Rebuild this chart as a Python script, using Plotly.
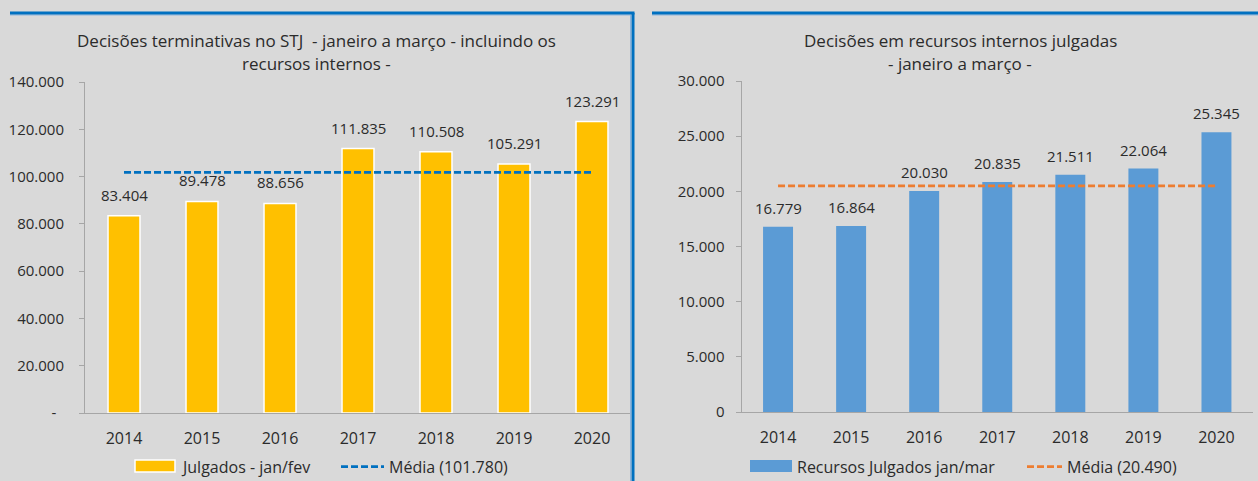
import plotly.graph_objects as go

years = ["2014", "2015", "2016", "2017", "2018", "2019", "2020"]
julgados = [83404, 89478, 88656, 111835, 110508, 105291, 123291]
recursos = [16779, 16864, 20030, 20835, 21511, 22064, 25345]

left_title = ["Decisões terminativas no STJ  - janeiro a março - incluindo os", "recursos internos -"]
right_title = ["Decisões em recursos internos julgadas", "- janeiro a março -"]
left_ticks = [0, 20000, 40000, 60000, 80000, 100000, 120000, 140000]
left_ticktext = ["-\u00a0\u00a0", "20.000", "40.000", "60.000", "80.000", "100.000", "120.000", "140.000"]
right_ticks = [0, 5000, 10000, 15000, 20000, 25000, 30000]
right_ticktext = ["0", "5.000", "10.000", "15.000", "20.000", "25.000", "30.000"]


def fmt(v):
    return f"{round(v):,}".replace(",", ".")


mean_l = sum(julgados) / len(julgados)
mean_r = sum(recursos) / len(recursos)
name_l = ["Julgados - jan/fev", f"Média ({fmt(mean_l)})"]
name_r = ["Recursos Julgados jan/mar", f"Média ({fmt(mean_r)})"]

W, H = 1258, 481
BG = "#D9D9D9"
TXT = "#2b2b2b"
AX = "#A6A6A6"
FONT = "Open Sans"
YEL = "#FFC000"
BLU = "#5B9BD5"
DBL = "#0070C0"
LBL = "#8DB4DD"
ORG = "#ED7D31"
DASH = "7px,3px"


def px(x):
    return x / W


def py(y):
    return 1 - y / H


fig = go.Figure()

fig.add_trace(go.Bar(x=years, y=julgados, name=name_l[0],
                     marker=dict(color=YEL, line=dict(color="white", width=1.5)),
                     xaxis="x", yaxis="y", showlegend=False))
fig.add_trace(go.Scatter(x=[years[0], years[-1]], y=[mean_l, mean_l], mode="lines",
                         name=name_l[1], line=dict(color=DBL, width=2.75, dash=DASH),
                         xaxis="x", yaxis="y", showlegend=False))
fig.add_trace(go.Bar(x=years, y=recursos, name=name_r[0],
                     marker=dict(color=BLU, line=dict(width=0)),
                     xaxis="x2", yaxis="y2", showlegend=False))
fig.add_trace(go.Scatter(x=[years[0], years[-1]], y=[mean_r, mean_r], mode="lines",
                         name=name_r[1], line=dict(color=ORG, width=2.75, dash=DASH),
                         xaxis="x2", yaxis="y2", showlegend=False))

annotations = []
for i, v in enumerate(julgados):
    annotations.append(dict(x=i, y=v, xref="x", yref="y", text=fmt(v), showarrow=False,
                            yshift=21, font=dict(size=15, color=TXT, family=FONT)))
for i, v in enumerate(recursos):
    annotations.append(dict(x=i, y=v, xref="x2", yref="y2", text=fmt(v), showarrow=False,
                            yshift=19, font=dict(size=15, color=TXT, family=FONT)))

for i, t in enumerate(left_title):
    annotations.append(dict(x=px(317), y=py(40 + 23 * i), xref="paper", yref="paper", text=t,
                            showarrow=False, xanchor="center", yanchor="middle",
                            font=dict(size=17, color=TXT, family=FONT)))
for i, t in enumerate(right_title):
    annotations.append(dict(x=px(960), y=py(40 + 23 * i), xref="paper", yref="paper", text=t,
                            showarrow=False, xanchor="center", yanchor="middle",
                            font=dict(size=17, color=TXT, family=FONT)))

# legend texts
leg_font = dict(size=16, color=TXT, family=FONT)
for xt, t in [(179, name_l[0]), (387, name_l[1]), (795, name_r[0]), (1065, name_r[1])]:
    annotations.append(dict(x=px(xt), y=py(466.5), xref="paper", yref="paper", text=t,
                            showarrow=False, xanchor="left", yanchor="middle", font=leg_font))

shapes = [
    # panel borders
    dict(type="line", xref="paper", yref="paper", x0=px(10), x1=px(631), y0=py(15), y1=py(15),
         line=dict(color=LBL, width=1)),
    dict(type="line", xref="paper", yref="paper", x0=px(630.5), x1=px(630.5), y0=py(15), y1=0,
         line=dict(color=LBL, width=1)),
    dict(type="line", xref="paper", yref="paper", x0=px(652), x1=1, y0=py(15), y1=py(15),
         line=dict(color=LBL, width=1)),
    dict(type="line", xref="paper", yref="paper", x0=px(10), x1=px(634.5), y0=py(13), y1=py(13),
         line=dict(color=DBL, width=3)),
    dict(type="line", xref="paper", yref="paper", x0=px(633), x1=px(633), y0=py(13), y1=0,
         line=dict(color=DBL, width=3)),
    dict(type="line", xref="paper", yref="paper", x0=px(652), x1=1, y0=py(13), y1=py(13),
         line=dict(color=DBL, width=3)),
    # legend keys
    dict(type="rect", xref="paper", yref="paper", x0=px(135), x1=px(175), y0=py(472), y1=py(460),
         fillcolor=YEL, line=dict(color="white", width=1.5)),
    dict(type="line", xref="paper", yref="paper", x0=px(341), x1=px(384), y0=py(466.5), y1=py(466.5),
         line=dict(color=DBL, width=2.75, dash=DASH)),
    dict(type="rect", xref="paper", yref="paper", x0=px(750), x1=px(792), y0=py(472), y1=py(460),
         fillcolor=BLU, line=dict(width=0)),
    dict(type="line", xref="paper", yref="paper", x0=px(1027), x1=px(1062), y0=py(466.5), y1=py(466.5),
         line=dict(color=ORG, width=2.75, dash=DASH)),
]

yaxis_common = dict(showgrid=False, zeroline=False, linecolor=AX, linewidth=1, automargin=False,
                    tickfont=dict(size=15, color=TXT, family=FONT))
xaxis_common = dict(showgrid=False, zeroline=False, linecolor=AX, linewidth=1, automargin=False,
                    tickfont=dict(size=16, color=TXT, family=FONT))

fig.update_layout(
    width=W, height=H, autosize=False,
    margin=dict(l=0, r=0, t=0, b=0, pad=0, autoexpand=False),
    paper_bgcolor=BG, plot_bgcolor=BG,
    separators=",.",
    bargap=0.59,
    showlegend=False,
    font=dict(family=FONT, color=TXT),
    xaxis=dict(domain=[px(85), px(631)], type="category", range=[-0.5, 6.5],
               showline=True, ticks="", ticklabelstandoff=11, anchor="y", **xaxis_common),
    yaxis=dict(domain=[py(413), py(82)], range=[0, 140000], tickvals=left_ticks,
               ticktext=left_ticktext, showline=True, ticks="outside", ticklen=5,
               tickcolor=AX, ticklabelstandoff=12, anchor="x", **yaxis_common),
    xaxis2=dict(domain=[px(741.5), px(1253)], type="category", range=[-0.5, 6.5],
                showline=True, ticks="", ticklabelstandoff=11, anchor="y2", **xaxis_common),
    yaxis2=dict(domain=[py(412), py(81)], range=[0, 30000], tickvals=right_ticks,
                ticktext=right_ticktext, showline=True, ticks="outside", ticklen=5,
                tickcolor=AX, ticklabelstandoff=8, anchor="x2", **yaxis_common),
    annotations=annotations,
    shapes=shapes,
)

fig.write_html(
    "out.html",
    config={"displayModeBar": False},
    post_script="document.body.style.margin='0';document.body.style.background='#D9D9D9';"
                "document.documentElement.style.overflow='hidden';",
)
